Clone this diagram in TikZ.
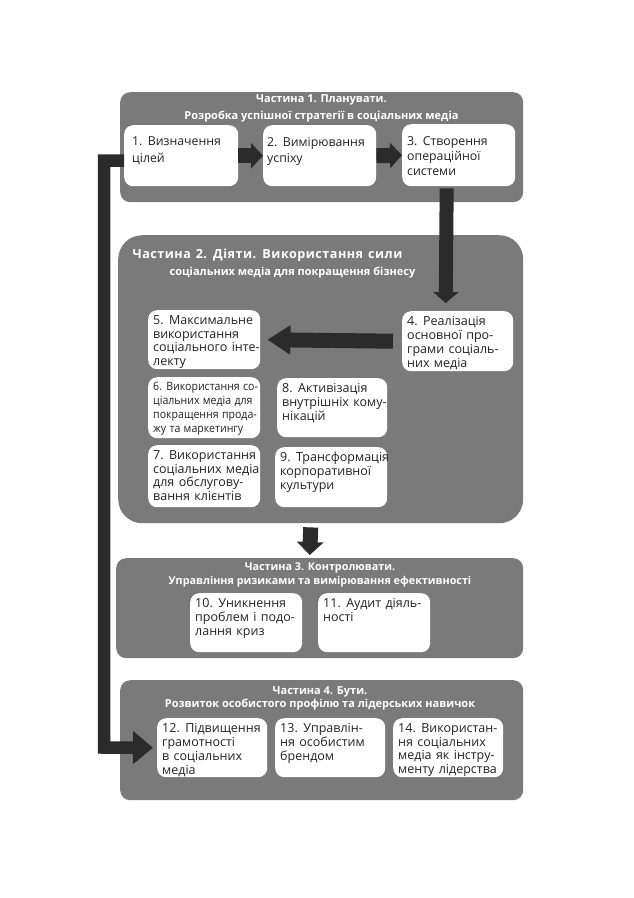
\documentclass[tikz,border=0pt]{standalone}
\usepackage{fontspec}
\setmainfont{Open Sans}
\newfontfamily\boxfont[WordSpace=1.35]{Open Sans}
\newfontfamily\condfont[FakeStretch=0.92,WordSpace=1.2]{Open Sans}
\newfontfamily\spacedtitle[LetterSpace=4,WordSpace=1.3]{Open Sans}
\usetikzlibrary{arrows.meta,calc}
\definecolor{partgray}{HTML}{7A7A7A}
\definecolor{arrowdark}{HTML}{2B2B2B}
\definecolor{txtdark}{HTML}{222222}
\tikzset{
  part/.style={fill=partgray, draw=none, rounded corners=10pt, anchor=north west, inner sep=0pt},
  ibox/.style={fill=white, draw=none, rounded corners=9pt, anchor=north west, inner sep=0pt},
  itext/.style={anchor=north west, inner xsep=5pt, inner ysep=5pt, align=left, text=txtdark,
    font=\boxfont\fontsize{12.5}{13.9}\selectfont},
  toptext/.style={inner xsep=8pt, inner ysep=12pt, font=\boxfont\fontsize{12.3}{16.5}\selectfont},
  ptitle/.style={text=white, align=center},
  blockarrow/.style={draw=arrowdark, line join=miter},
}
\newcommand\ibx[7][]{\node[ibox, minimum width=#5pt, minimum height=#6pt] (#2) at (#3,#4) {};
  \node[itext,#1] (#2t) at (#2.north west) {#7};}
\begin{document}
\begin{tikzpicture}[x=1pt,y=-1pt]
\useasboundingbox (0,0) rectangle (633,898);
\fill[white] (0,0) rectangle (633,898);
% parts
\node[part, minimum width=403pt, minimum height=110pt] (p1) at (120,92) {};
\node[part, rounded corners=24pt, minimum width=405pt, minimum height=288pt] (p2) at (118,235) {};
\node[part, minimum width=407pt, minimum height=100pt] (p3) at (116,558) {};
\node[part, minimum width=403pt, minimum height=120pt] (p4) at (120,680) {};
% titles
\node[ptitle, font=\bfseries\fontsize{11}{17}\selectfont] (t1) at (321.5,108.5)
  {Частина 1. Планувати.\\Розробка успішної стратегії в соціальних медіа};
\node[ptitle, font=\spacedtitle\bfseries\fontsize{12.6}{18}\selectfont] (t2a) at (267.5,255)
  {Частина 2. Діяти. Використання сили};
\node[ptitle, font=\bfseries\fontsize{11}{18}\selectfont] (t2b) at (292.5,273)
  {соціальних медіа для покращення бізнесу};
\node[ptitle, font=\bfseries\fontsize{10.8}{14.5}\selectfont] (t3) at (320,575)
  {Частина 3. Контролювати.\\Управління ризиками та вимірювання ефективності};
\node[ptitle, font=\bfseries\fontsize{11}{13.5}\selectfont] (t4) at (320,698.5)
  {Частина 4. Бути.\\Розвиток особистого профілю та лідерських навичок};
% inner boxes
\ibx[toptext]{b1}{124}{125}{114}{61}{1. Визначення\\цілей}
\ibx[toptext, inner xsep=4pt]{b2}{263}{125}{113}{61}{2. Вимірювання\\успіху}
\ibx[toptext, inner xsep=5pt, font=\boxfont\fontsize{12.3}{15}\selectfont]{b3}{402}{124}{113}{62}{3. Створення\\операційної\\системи}
\ibx{b4}{402}{311}{111}{60}{4. Реалізація\\основної про-\\грами соціаль-\\них медіа}
\ibx{b5}{148}{310}{112}{59}{5. Максимальне\\використання\\соціального інте-\\лекту}
\ibx[font=\condfont\fontsize{11.5}{14}\selectfont]{b6}{148}{377}{112}{61}{6. Використання со-\\ціальних медіа для\\покращення прода-\\жу та маркетингу}
\ibx{b8}{277}{378}{110}{59}{8. Активізація\\внутрішніх кому-\\нікацій}
\ibx{b7}{148}{445}{112}{62}{7. Використання\\соціальних медіа\\для обслугову-\\вання клієнтів}
\ibx{b9}{275}{447}{112}{60}{9. Трансформація\\корпоративної\\культури}
\ibx{b10}{190}{593}{112}{59}{10. Уникнення\\проблем і подо-\\лання криз}
\ibx{b11}{318}{593}{112}{59}{11. Аудит діяль-\\ності}
\ibx{b12}{157}{718}{110}{59}{12. Підвищення\\грамотності\\в соціальних\\медіа}
\ibx{b13}{275}{718}{110}{59}{13. Управлін-\\ня особистим\\брендом}
\ibx{b14}{393}{718}{110}{59}{14. Використан-\\ня соціальних\\медіа як інстру-\\менту лідерства}
% arrows
\draw[blockarrow, line width=15pt, -{Triangle[width=25pt,length=12pt]}] (b1.east) -- (b2.west);
\draw[blockarrow, line width=15pt, -{Triangle[width=25pt,length=12pt]}] (b2.east) -- (b3.west);
\draw[blockarrow, line width=14pt, -{Triangle[width=25pt,length=11pt]}]
  ([xshift=-12pt,yshift=-2pt]b3.south) -- ([xshift=-12pt,yshift=8pt]b4.north);
\draw[blockarrow, line width=15pt, -{Triangle[width=28pt,length=23pt]}]
  ([xshift=-9pt]b4.west) -- ([xshift=7pt]b5.east);
\draw[blockarrow, line width=15pt, -{Triangle[width=26pt,length=13pt]}]
  ([xshift=-10pt,yshift=-4pt]p2.south) -- ([xshift=-10pt,yshift=3pt]p3.north);
\coordinate (lc) at (104,747.5);
\draw[blockarrow, line width=12.5pt, -{Triangle[width=32pt,length=20pt]}]
  ([yshift=-5pt]b1.west) -| (lc) -- ([xshift=-4pt]b12.west);
\end{tikzpicture}
\end{document}
